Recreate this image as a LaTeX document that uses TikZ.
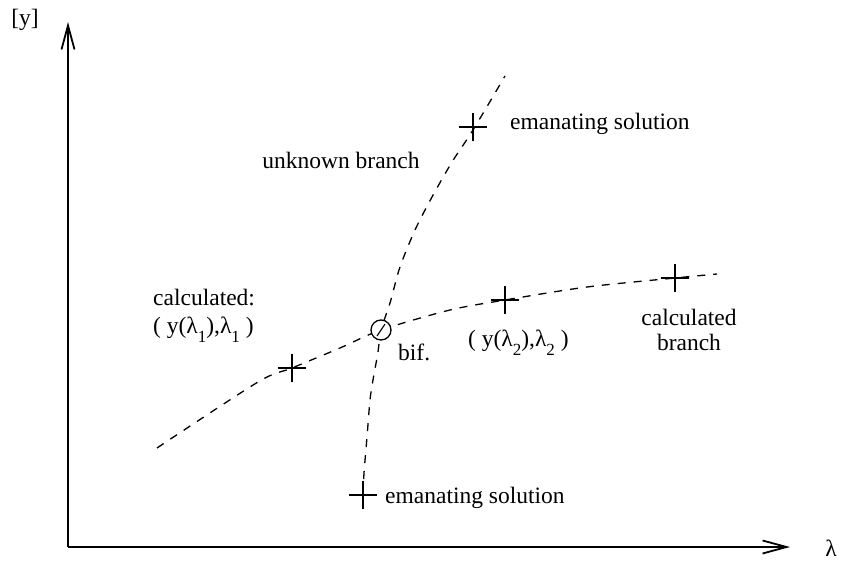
\documentclass[tikz,border=0pt]{standalone}
\usepackage{fontspec}
\setmainfont{Liberation Serif}
\usetikzlibrary{arrows.meta,shapes.misc}
\newcommand{\lsub}[1]{\raisebox{-0.4em}{\fontsize{17}{17}\selectfont #1}}
\tikzset{
  lbl/.style={inner sep=0pt,align=center,font=\fontsize{23.5}{24}\selectfont},
  branch/.style={dash pattern=on 8pt off 8pt,line width=1.3pt},
  axis/.style={-{Straight Barb[length=24pt,width=13pt]},line width=1.8pt},
  plusmark/.style={cross out,draw,rotate=45,minimum size=19pt,inner sep=0pt,line width=1.4pt},
}
\begin{document}
\begin{tikzpicture}[x=1pt,y=-1pt]
\useasboundingbox (0,0) rectangle (842,561);
\coordinate (org) at (68,547);
\coordinate (ytop) at (68,22);
\coordinate (xend) at (790,547);
\draw[axis] (org) -- (ytop);
\draw[axis] (org) -- (xend);
\node[lbl] (ylab) at (25,20) {[y]};
\node[lbl] (xlab) at (831,548) {λ};
% calculated branch
\draw[branch] plot[smooth] coordinates {(157,448) (258,382) (292,368) (340,348) (381,330) (450,310) (505,300) (587,287) (675,278) (717,274)};
% unknown branch
\draw[branch] plot[smooth] coordinates {(363,495) (364,473) (367,437) (370,400) (373,380) (378,352) (381,330) (390,303) (400,267) (415,230) (432,197) (452,162) (473,130) (505,76)};
\node[circle,draw,fill=white,line width=1.3pt,minimum size=20pt,inner sep=0pt] (bif) at (381,330) {};
\draw[line width=1.1pt] (bif.center) ++(4,-6) -- ++(-8,12);
\node[plusmark] (p1) at (292,368) {};
\node[plusmark] (p2) at (505,300) {};
\node[plusmark] (p3) at (675,278) {};
\node[plusmark] (p4) at (473,127) {};
\node[plusmark] (p5) at (363,495) {};
\node[lbl,anchor=west] (etop) at (510,124) {emanating solution};
\node[lbl,anchor=west] (ebot) at (385,498) {emanating solution};
\node[lbl] (unk) at (341,160) {unknown branch};
\node[lbl,align=left,anchor=west] (calc1) at (153,316) {calculated:\\[4pt]( y(λ\lsub{1}),λ\lsub{1} )};
\node[lbl,anchor=west] (biflab) at (398,352) {bif.};
\node[lbl,anchor=west] (calc2) at (468,343) {( y(λ\lsub{2}),λ\lsub{2} )};
\node[lbl] (cbr) at (689,330) {calculated\\[1pt]branch};
\end{tikzpicture}
\end{document}
